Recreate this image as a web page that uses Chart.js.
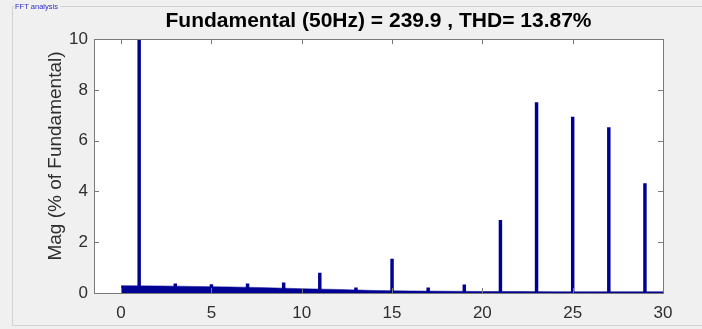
<!DOCTYPE html>
<html>
<head>
<meta charset="utf-8">
<script src="https://cdn.jsdelivr.net/npm/chart.js@4.4.1/dist/chart.umd.min.js"></script>
<style>
  html, body { margin: 0; padding: 0; background: #f0f0f0; }
  #wrap { position: relative; width: 702px; height: 329px; }
</style>
</head>
<body>
<div id="wrap"><canvas id="fft" width="702" height="329"></canvas></div>
<script>
// harmonic spikes (% of fundamental), fundamental is clipped at the top
const harmonicOrder = [1, 3, 5, 7, 9, 11, 13, 15, 17, 19, 21, 23, 25, 27, 29];
const harmonicMag   = [100, 0.36, 0.33, 0.36, 0.40, 0.78, 0.20, 1.34, 0.20, 0.32, 2.86, 7.5, 6.93, 6.52, 4.31];

// low broadband floor under the spikes
const floorOrder = [0, 2, 4, 6, 8, 10, 12, 14, 16, 18, 20, 22, 24, 26, 28, 30];
const floorMag   = [0.29, 0.28, 0.26, 0.24, 0.21, 0.17, 0.14, 0.10, 0.08, 0.07, 0.06, 0.06, 0.05, 0.05, 0.05, 0.05];

const xTicks = [0, 5, 10, 15, 20, 25, 30];
const yTicks = [0, 2, 4, 6, 8, 10];

const titleText = 'Fundamental (50Hz) = 239.9 , THD= 13.87%';
const yTitleText = 'Mag (% of Fundamental)';
const panelText = 'FFT analysis';

const blue = '#000094';
const axisGray = '#7a7a7a';
const labelGray = '#2e2e2e';

// panel frame, white axes background, inside ticks, y title
const decor = {
  id: 'decor',
  beforeDraw(chart) {
    const ctx = chart.ctx, a = chart.chartArea;
    ctx.save();
    ctx.fillStyle = '#f0f0f0';
    ctx.fillRect(0, 0, chart.width, chart.height);
    // uipanel border
    ctx.strokeStyle = '#d2d2d2';
    ctx.lineWidth = 1;
    ctx.beginPath();
    ctx.moveTo(702, 6.5); ctx.lineTo(12.5, 6.5); ctx.lineTo(12.5, 325.5); ctx.lineTo(702, 325.5);
    ctx.stroke();
    ctx.font = '7.5px "Liberation Sans", Arial, sans-serif';
    const w = ctx.measureText(panelText).width;
    ctx.fillStyle = '#f0f0f0';
    ctx.fillRect(14, 2, w + 3, 9);
    ctx.fillStyle = '#2b2bc8';
    ctx.textBaseline = 'middle';
    ctx.fillText(panelText, 15, 6.5);
    // axes background
    ctx.fillStyle = '#ffffff';
    ctx.fillRect(a.left, a.top, a.right - a.left, a.bottom - a.top);
    ctx.restore();
  },
  afterDraw(chart) {
    const ctx = chart.ctx, a = chart.chartArea;
    const xs = chart.scales.x, ys = chart.scales.y;
    ctx.save();
    ctx.strokeStyle = axisGray;
    ctx.lineWidth = 1;
    ctx.strokeRect(Math.round(a.left) + 0.5, Math.round(a.top) + 0.5,
                   Math.round(a.right - a.left), Math.round(a.bottom - a.top));
    ctx.beginPath();
    xTicks.forEach(v => {
      const px = Math.round(xs.getPixelForValue(v)) + 0.5;
      ctx.moveTo(px, a.bottom); ctx.lineTo(px, a.bottom - 5);
      ctx.moveTo(px, a.top); ctx.lineTo(px, a.top + 5);
    });
    yTicks.forEach(v => {
      const py = Math.round(ys.getPixelForValue(v)) + 0.5;
      ctx.moveTo(a.left, py); ctx.lineTo(a.left + 5, py);
      ctx.moveTo(a.right, py); ctx.lineTo(a.right - 5, py);
    });
    ctx.stroke();
    // y axis title
    ctx.translate(56, 156);
    ctx.rotate(-Math.PI / 2);
    ctx.fillStyle = labelGray;
    ctx.font = '19px "Liberation Sans", Arial, sans-serif';
    ctx.textAlign = 'center';
    ctx.textBaseline = 'middle';
    ctx.fillText(yTitleText, 0, 0);
    ctx.restore();
  }
};

new Chart(document.getElementById('fft'), {
  type: 'bar',
  data: {
    datasets: [
      {
        type: 'bar',
        data: harmonicOrder.map((h, i) => ({x: h, y: harmonicMag[i]})),
        backgroundColor: blue,
        borderWidth: 0,
        barThickness: 2.8,
        order: 1
      },
      {
        type: 'line',
        data: floorOrder.map((h, i) => ({x: h, y: floorMag[i]})),
        borderColor: blue,
        backgroundColor: blue,
        borderWidth: 0.5,
        pointRadius: 0,
        tension: 0,
        fill: 'origin',
        order: 2
      }
    ]
  },
  options: {
    responsive: false,
    animation: false,
    layout: { padding: { left: 0, right: 39, top: 0, bottom: 0 } },
    plugins: {
      legend: { display: false },
      tooltip: { enabled: false },
      title: {
        display: true,
        text: titleText,
        fullSize: false,
        color: '#000000',
        font: { family: '"Liberation Sans", Arial, sans-serif', size: 21, weight: 'bold', lineHeight: 1.2 },
        padding: { top: 9, bottom: 5 }
      }
    },
    scales: {
      x: {
        type: 'linear',
        min: -1.5,
        max: 30,
        offset: false,
        grid: { display: false, drawTicks: false },
        border: { display: false },
        afterBuildTicks: s => { s.ticks = xTicks.map(v => ({value: v})); },
        afterFit: s => { s.height = 36; },
        ticks: {
          color: labelGray,
          padding: 10,
          maxRotation: 0,
          font: { family: '"Liberation Sans", Arial, sans-serif', size: 17 }
        }
      },
      y: {
        min: 0,
        max: 10,
        grid: { display: false, drawTicks: false },
        border: { display: false },
        afterBuildTicks: s => { s.ticks = yTicks.map(v => ({value: v})); },
        afterFit: s => { s.width = 94; },
        ticks: {
          color: labelGray,
          padding: 6,
          font: { family: '"Liberation Sans", Arial, sans-serif', size: 17 }
        }
      }
    }
  },
  plugins: [decor]
});
</script>
</body>
</html>
